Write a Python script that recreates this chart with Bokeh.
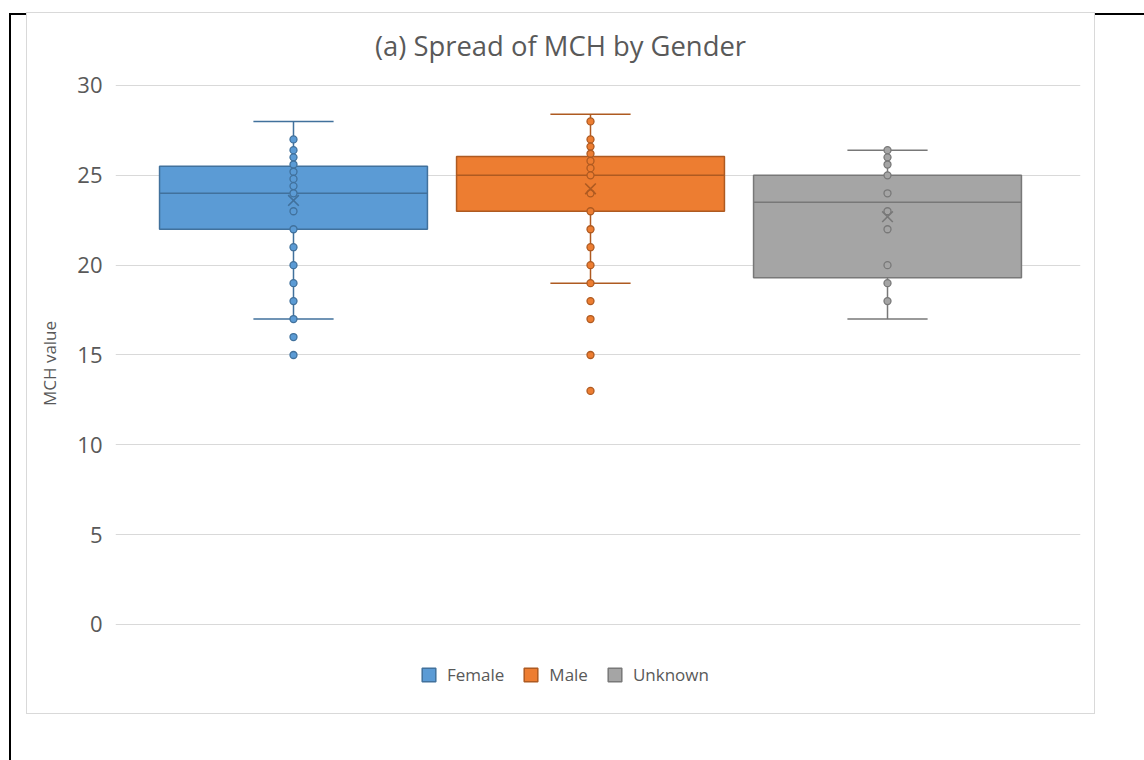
from bokeh.plotting import figure
from bokeh.layouts import column, row
from bokeh.models import Range1d, Legend, LegendItem, Label, FixedTicker, Spacer
from bokeh.embed import file_html
from bokeh.resources import INLINE

categories = ["Female", "Male", "Unknown"]
q1 = [22.0, 23.0, 19.3]
median = [24.0, 25.0, 23.5]
q3 = [25.5, 26.05, 25.0]
whisker_lo = [17.0, 19.0, 17.0]
whisker_hi = [28.0, 28.4, 26.4]
mean = [23.6, 24.25, 22.7]
female_pts = [27, 26.4, 26, 25.6, 25.2, 24.8, 24.4, 24, 23, 22, 21, 20, 19, 18, 17, 16, 15]
male_pts = [28, 27, 26.6, 26.2, 25.8, 25.4, 25, 24, 23, 22, 21, 20, 19, 18, 17, 15, 13]
unknown_pts = [26.4, 26, 25.6, 25, 24, 23, 22, 20, 19, 18]
y_ticks = [0, 5, 10, 15, 20, 25, 30]
title_text = "(a) Spread of MCH by Gender"

fills = ["#5B9BD5", "#ED7D31", "#A5A5A5"]
lines = ["#41719C", "#AE5A21", "#787878"]
TXT = "#595959"
FONT = "Open Sans"

p = figure(frame_width=965, frame_height=700, output_backend="svg", toolbar_location=None,
           x_range=Range1d(0.4007, 3.6498), y_range=Range1d(-4.954, 34.007),
           x_axis_location=None,
           min_border_left=88, min_border_right=14, min_border_top=0, min_border_bottom=0)
p.title = None
p.outline_line_color = None
p.background_fill_color = "white"
p.border_fill_color = "white"
p.xgrid.visible = False
p.ygrid.grid_line_color = "#D9D9D9"
p.ygrid.grid_line_width = 1
p.yaxis.ticker = FixedTicker(ticks=y_ticks)
p.yaxis.axis_line_color = None
p.yaxis.major_tick_line_color = None
p.yaxis.minor_tick_line_color = None
p.yaxis.major_tick_out = 0
p.yaxis.major_tick_in = 0
p.yaxis.minor_tick_out = 0
p.yaxis.major_label_text_font = FONT
p.yaxis.major_label_text_font_size = "22px"
p.yaxis.major_label_text_color = TXT
p.yaxis.major_label_standoff = 13
p.yaxis.axis_label = "MCH value"
p.yaxis.axis_label_text_font = FONT
p.yaxis.axis_label_text_font_size = "17px"
p.yaxis.axis_label_text_font_style = "normal"
p.yaxis.axis_label_text_color = TXT
p.yaxis.axis_label_standoff = 13

xs = [i + 1 for i in range(len(categories))]
bw = 0.902
cw = 0.27

boxes = p.vbar(x=xs, width=bw, bottom=q1, top=q3, fill_color=fills, line_color=lines, line_width=1.5)
p.segment(x0=[x - bw / 2 for x in xs], x1=[x + bw / 2 for x in xs], y0=median, y1=median,
          line_color=lines, line_width=1.5)
p.segment(x0=xs, x1=xs, y0=whisker_lo, y1=q1, line_color=lines, line_width=1.5)
p.segment(x0=xs, x1=xs, y0=q3, y1=whisker_hi, line_color=lines, line_width=1.5)
p.segment(x0=[x - cw / 2 for x in xs], x1=[x + cw / 2 for x in xs], y0=whisker_lo, y1=whisker_lo,
          line_color=lines, line_width=1.5)
p.segment(x0=[x - cw / 2 for x in xs], x1=[x + cw / 2 for x in xs], y0=whisker_hi, y1=whisker_hi,
          line_color=lines, line_width=1.5)

for i, pts in enumerate([female_pts, male_pts, unknown_pts]):
    p.scatter(x=[xs[i]] * len(pts), y=pts, size=7, marker="circle",
              fill_color=fills[i], line_color=lines[i], line_width=1.3)
p.scatter(x=xs, y=mean, marker="x", size=15, line_color=lines, line_width=1.6)

legend = Legend(items=[LegendItem(label=c, renderers=[boxes], index=i) for i, c in enumerate(categories)],
                orientation="horizontal", location=(305, 27))
legend.label_text_font = FONT
legend.label_text_font_size = "17px"
legend.label_text_color = TXT
legend.glyph_width = 17
legend.glyph_height = 17
legend.label_standoff = 10
legend.spacing = 18
legend.padding = 0
legend.margin = 0
legend.border_line_color = None
legend.background_fill_alpha = 0
p.add_layout(legend, "center")

p.add_layout(Label(x=1.899, y=32.23, text=title_text,
                   text_font=FONT, text_font_size="27.4px", text_color=TXT,
                   text_align="center", text_baseline="middle"))

chart = column(p, styles={"border": "1px solid #D9D9D9", "background-color": "white"})
chart.margin = (-3, 0, 0, 15)

root = column(row(chart, Spacer(width=49, height=10)), Spacer(width=10, height=46),
              styles={"border-left": "2px solid black", "border-top": "2px solid black",
                      "margin-left": "9px", "margin-top": "13px"})

open("out.html", "w").write(file_html(root, INLINE))
